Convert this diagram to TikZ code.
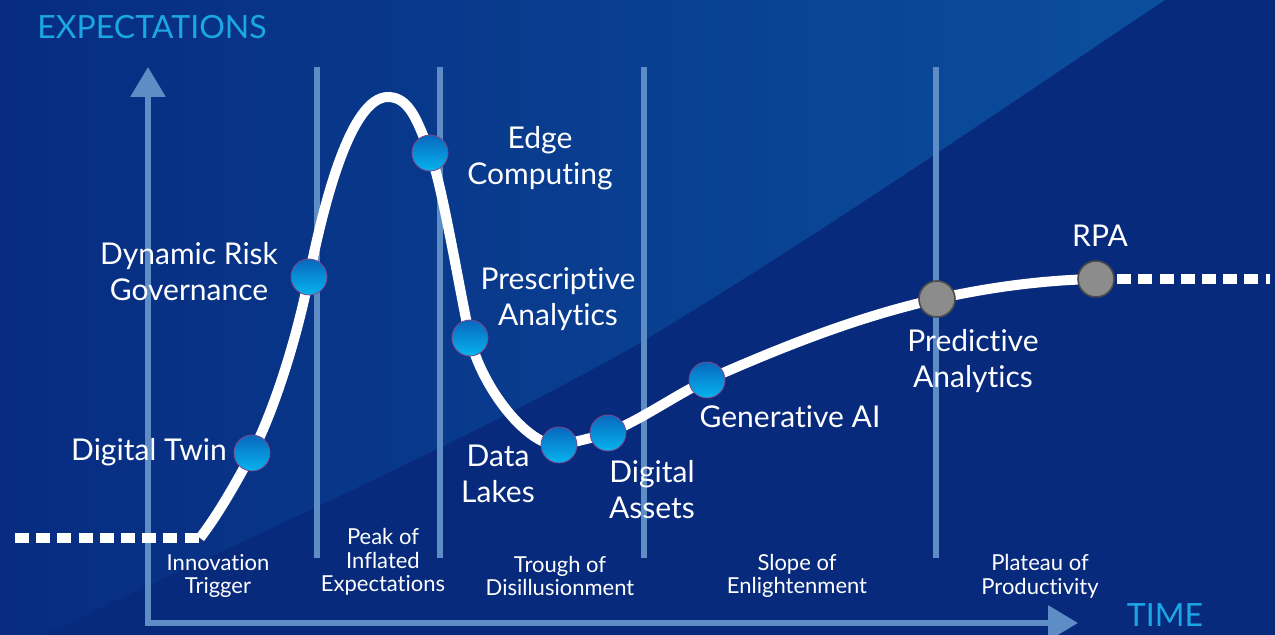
\documentclass[tikz,border=0pt]{standalone}
\usepackage{fontspec}
\setmainfont{Lato}[Ligatures=NoCommon]
\usetikzlibrary{arrows.meta}

\definecolor{bgdark}{RGB}{7,42,125}
\definecolor{bgleft}{RGB}{7,44,129}
\definecolor{bgright}{RGB}{11,78,157}
\definecolor{phaseline}{RGB}{94,140,196}
\definecolor{axistext}{RGB}{27,166,228}
\definecolor{dotblue}{RGB}{8,104,190}
\definecolor{dotcyan}{RGB}{6,180,238}
\definecolor{dotrim}{RGB}{130,70,140}

\tikzset{
  phase/.style={phaseline, line width=3pt},
  hype/.style={white, line width=5pt, line join=round},
  tail/.style={white, line width=5pt, dash pattern=on 7pt off 3.6pt},
  tech/.style={circle, inner sep=0pt, minimum size=18pt, top color=dotblue, bottom color=dotcyan, draw=dotrim, line width=.4pt},
  mature/.style={circle, inner sep=0pt, minimum size=18pt, fill=black!45, draw=black!70, line width=.8pt},
  techlabel/.style={white, align=center, font=\fontsize{15}{18}\selectfont},
  phaselabel/.style={white, align=center, font=\fontsize{11}{11.8}\selectfont},
  axislabel/.style={axistext, font=\fontsize{16}{18}\selectfont}
}

\begin{document}
\begin{tikzpicture}[x=.5pt,y=-.5pt]
\useasboundingbox (0,0) rectangle (1275,635);
\fill[bgdark] (0,0) rectangle (1275,635);
\shade[left color=bgleft, right color=bgright] (0,0) -- (1165,0) .. controls (1000,110) and (820,235) .. (633,347) .. controls (450,450) and (200,560) .. (0,655) -- cycle;

% phases
\foreach \x in {317,440,644,936} {
  \draw[phase] (\x,67) -- (\x,558);
}
\foreach \x/\y/\txt in {218/576/{Innovation\\Trigger}, 383/562/{Peak of\\Inflated\\Expectations}, 560/576/{Trough of\\Disillusionment}, 797/576/{Slope of\\Enlightenment}, 1040/576/{Plateau of\\Productivity}} {
  \node[phaselabel] at (\x,\y) {\txt};
}

% axes
\draw[phase, line join=miter, <->, >={Triangle[length=15pt,width=17pt]}] (148,67) -- (148,623) -- (1078,623);
\node[axislabel] (expect) at (152,27) {EXPECTATIONS};
\node[axislabel] (time) at (1165,615) {TIME};

% curve
\coordinate (start) at (200,538);
\coordinate (twin) at (252,453);
\coordinate (risk) at (309,277);
\coordinate (top) at (388,97);
\coordinate (edge) at (430,153);
\coordinate (presc) at (470,338);
\coordinate (lakes) at (559,445);
\coordinate (assets) at (608,433);
\coordinate (genai) at (707,380);
\coordinate (predict) at (937,299);
\coordinate (rpa) at (1096,279);
\draw[tail] (15,538) -- (start);
\draw[tail] (rpa) -- (1270,279);
\draw[hype] (start) .. controls (217,516) and (235,485) .. (twin)
  .. controls (271,417) and (295,347) .. (risk)
  .. controls (323,207) and (350,97) .. (top)
  .. controls (410,97) and (418,123) .. (edge)
  .. controls (442,183) and (460,293) .. (presc)
  .. controls (482,388) and (528,447) .. (lakes)
  .. controls (575,442) and (592,438) .. (assets)
  .. controls (641,420) and (674,396) .. (genai)
  .. controls (784,346) and (860,316) .. (predict)
  .. controls (990,287) and (1045,280) .. (rpa);

\node[tech] (twindot) at (twin) {};
\node[tech] (riskdot) at (risk) {};
\node[tech] (edgedot) at (edge) {};
\node[tech] (prescdot) at (presc) {};
\node[tech] (lakesdot) at (lakes) {};
\node[tech] (assetsdot) at (assets) {};
\node[tech] (genaidot) at (genai) {};
\node[mature] (predictdot) at (predict) {};
\node[mature] (rpadot) at (rpa) {};

\node[techlabel] at (149,452) {Digital Twin};
\node[techlabel] at (189,272) {Dynamic Risk\\Governance};
\node[techlabel] at (540,158) {Edge\\Computing};
\node[techlabel] at (558,299) {Prescriptive\\Analytics};
\node[techlabel] at (498,474) {Data\\Lakes};
\node[techlabel] at (652,490) {Digital\\Assets};
\node[techlabel] at (790,417) {Generative AI};
\node[techlabel] at (973,361) {Predictive\\Analytics};
\node[techlabel] at (1100,236) {RPA};
\end{tikzpicture}
\end{document}
